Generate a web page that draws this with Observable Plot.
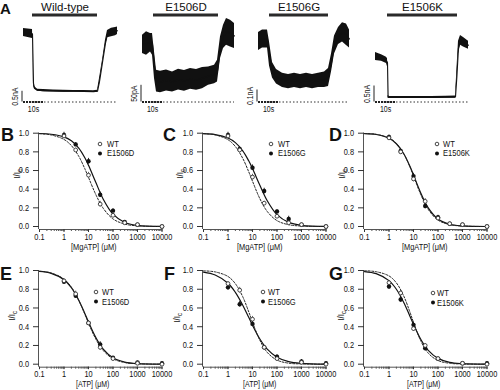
<!DOCTYPE html>
<html><head><meta charset="utf-8">
<script src="https://cdn.jsdelivr.net/npm/d3@7"></script>
<script src="https://cdn.jsdelivr.net/npm/@observablehq/plot@0.6"></script>
<style>
body{margin:0;background:#fff;}
#fig{position:relative;width:500px;height:390px;overflow:hidden;background:#fff;color:#111;
  font-family:'Liberation Sans',Arial,sans-serif;}
#fig > div{position:absolute;}
#fig svg{background:transparent;overflow:visible;}
.lt{font-weight:bold;line-height:1;}
.lg{font-size:9px;line-height:7px;height:7px;white-space:nowrap;transform-origin:left center;transform:translateY(-50%) scaleX(0.84);}
.yl{font-size:9.5px;line-height:1;white-space:nowrap;transform:translate(-50%,-50%) rotate(-90deg) scaleX(0.85);}
.yl sub{font-size:7px;vertical-align:-2px;}
</style></head>
<body><div id="fig"></div>
<script>
// ---------------- DATA ----------------
// Panel A: current traces (time in s; band low/high of the noisy trace)
const traceNames = ["Wild-type", "E1506D", "E1506G", "E1506K"];
const scaleLabels = ["0.5nA", "50pA", "0.1nA", "0.5nA"];
const scaleValues = [0.5, 50, 0.1, 0.5];
const timeBar = 10;
const timeBarLabel = "10s";
const appStart = [4.5, 5.5, 5.5, 6];
const appEnd = [37, 38, 35, 41];

const wtT  = [0, 4.5, 4.7, 5, 5.5, 7, 10, 15, 20, 25, 30, 35, 37, 38, 39.5, 41, 42, 44, 46, 47];
const wtLo = [3.06, 2.97, 1.9, 0.75, 0.6, 0.5, 0.48, 0.47, 0.46, 0.46, 0.45, 0.44, 0.45, 0.8, 1.75, 2.6, 3.0, 3.05, 3.1, 3.15];
const wtHi = [3.43, 3.39, 2.6, 1.0, 0.72, 0.6, 0.58, 0.56, 0.55, 0.54, 0.54, 0.53, 0.55, 1.1, 1.95, 2.9, 3.34, 3.45, 3.48, 3.5];

const dT  = [0, 2, 4, 5, 6, 7, 9, 12, 15, 18, 21, 24, 27, 30, 33, 36, 37.5, 39, 40.5, 42, 44, 46];
const dLo = [145, 140, 150, 140, 70, 30, 28, 33, 30, 36, 32, 38, 35, 40, 50, 55, 60, 130, 160, 170, 165, 160];
const dHi = [200, 210, 205, 205, 150, 95, 92, 96, 90, 98, 94, 100, 97, 103, 105, 110, 125, 195, 230, 250, 245, 235];

const gT  = [0, 2, 4.5, 5.5, 7, 9, 12, 15, 18, 21, 24, 27, 30, 33, 35, 36.5, 38, 40, 42, 44, 45.5];
const gLo = [0.43, 0.45, 0.45, 0.30, 0.20, 0.15, 0.12, 0.11, 0.12, 0.11, 0.12, 0.11, 0.12, 0.12, 0.13, 0.25, 0.40, 0.48, 0.50, 0.47, 0.45];
const gHi = [0.58, 0.60, 0.60, 0.50, 0.33, 0.27, 0.24, 0.23, 0.24, 0.23, 0.24, 0.23, 0.24, 0.25, 0.28, 0.40, 0.55, 0.62, 0.66, 0.65, 0.60];

const kT  = [0, 3, 5.5, 6, 6.3, 7, 12, 20, 28, 35, 40, 40.7, 41.5, 42.5, 44, 46.5];
const kLo = [1.30, 1.27, 1.20, 1.10, 0.12, 0.11, 0.11, 0.12, 0.11, 0.12, 0.12, 0.6, 1.5, 1.77, 1.72, 1.65];
const kHi = [1.55, 1.48, 1.40, 1.35, 0.20, 0.17, 0.17, 0.17, 0.17, 0.18, 0.19, 1.0, 1.9, 2.08, 2.02, 1.90];

// Panels B-G: concentration-response
const xTicks = [0.1, 1, 10, 100, 1000, 10000];
const xTickLabels = ["0.1", "1", "10", "100", "1000", "10000"];
const yTicks = [0, 0.2, 0.4, 0.6, 0.8, 1.0];
const yTickLabels = ["0.0", "0.2", "0.4", "0.6", "0.8", "1.0"];
const mgLabel = "[MgATP] (\u03bcM)";
const atpLabel = "[ATP] (\u03bcM)";
const mgConc = [1, 3, 10, 30, 100, 300, 1000, 10000];
const atpConc = [1, 3, 10, 30, 100, 1000, 10000];
const fitConc = [0.1, 0.3, 1, 2, 4, 7, 10, 20, 40, 100, 300, 1000, 10000];

const bWT = [0.97, 0.82, 0.55, 0.24, 0.12, 0.04, 0.02, 0.00];
const bMut = [0.98, 0.88, 0.70, 0.34, 0.17, 0.05, 0.02, 0.00];
const bWTErr = [0.02, 0.02, 0.03, 0.03, 0.02, 0.01, 0.01, 0.01];
const bMutErr = [0.03, 0.02, 0.03, 0.03, 0.02, 0.01, 0.01, 0.01];
const bFitWT = [0.994, 0.981, 0.933, 0.867, 0.753, 0.622, 0.526, 0.341, 0.195, 0.081, 0.026, 0.007, 0.000];
const bFitMut = [0.997, 0.989, 0.960, 0.918, 0.840, 0.739, 0.656, 0.471, 0.293, 0.132, 0.043, 0.012, 0.001];

const cWT = [0.97, 0.82, 0.53, 0.25, 0.11, 0.04, 0.02, 0.00];
const cMut = [0.98, 0.83, 0.63, 0.38, 0.16, 0.08, 0.02, 0.00];
const cWTErr = [0.02, 0.02, 0.03, 0.02, 0.02, 0.01, 0.01, 0.01];
const cMutErr = [0.03, 0.02, 0.03, 0.03, 0.02, 0.03, 0.01, 0.01];
const cFitWT = [0.995, 0.982, 0.930, 0.857, 0.730, 0.587, 0.485, 0.298, 0.161, 0.063, 0.019, 0.005, 0.000];
const cFitMut = [0.995, 0.985, 0.948, 0.899, 0.811, 0.704, 0.621, 0.442, 0.276, 0.127, 0.044, 0.013, 0.001];

const dWT = [0.95, 0.80, 0.51, 0.27, 0.09, 0.03, 0.02, 0.00];
const dMut = [0.96, 0.81, 0.54, 0.22, 0.10, 0.03, 0.02, 0.00];
const dWTErr = [0.02, 0.02, 0.03, 0.03, 0.02, 0.01, 0.01, 0.01];
const dMutErr = [0.02, 0.02, 0.03, 0.03, 0.02, 0.01, 0.01, 0.01];
const dFitWT = [0.997, 0.988, 0.949, 0.891, 0.780, 0.645, 0.542, 0.340, 0.183, 0.069, 0.020, 0.005, 0.000];
const dFitMut = [0.996, 0.986, 0.946, 0.887, 0.780, 0.650, 0.552, 0.357, 0.200, 0.080, 0.024, 0.006, 0.000];

const eWT = [0.89, 0.75, 0.44, 0.18, 0.06, 0.01, 0.00];
const eMut = [0.88, 0.73, 0.44, 0.21, 0.07, 0.02, 0.01];
const eWTErr = [0.02, 0.03, 0.02, 0.03, 0.01, 0.01, 0.01];
const eMutErr = [0.02, 0.02, 0.02, 0.03, 0.01, 0.01, 0.01];
const eFitWT = [0.992, 0.974, 0.908, 0.821, 0.682, 0.537, 0.439, 0.267, 0.146, 0.058, 0.018, 0.005, 0.000];
const eFitMut = [0.990, 0.970, 0.902, 0.817, 0.683, 0.545, 0.451, 0.284, 0.161, 0.068, 0.023, 0.006, 0.001];

const fWT = [0.86, 0.79, 0.48, 0.18, 0.06, 0.02, 0.00];
const fMut = [0.82, 0.64, 0.43, 0.18, 0.08, 0.03, 0.01];
const fWTErr = [0.02, 0.03, 0.03, 0.02, 0.01, 0.01, 0.01];
const fMutErr = [0.03, 0.03, 0.03, 0.02, 0.02, 0.02, 0.01];
const fFitWT = [0.996, 0.985, 0.936, 0.859, 0.720, 0.560, 0.449, 0.255, 0.126, 0.044, 0.011, 0.003, 0.000];
const fFitMut = [0.983, 0.952, 0.864, 0.767, 0.630, 0.500, 0.416, 0.269, 0.160, 0.074, 0.027, 0.009, 0.001];

const gWT = [0.87, 0.76, 0.38, 0.20, 0.06, 0.01, 0.00];
const gMut = [0.83, 0.69, 0.42, 0.17, 0.06, 0.01, 0.01];
const gWTErr = [0.02, 0.03, 0.03, 0.02, 0.01, 0.01, 0.01];
const gMutErr = [0.03, 0.03, 0.03, 0.02, 0.01, 0.01, 0.01];
const gFitWT = [0.997, 0.987, 0.942, 0.868, 0.727, 0.563, 0.447, 0.247, 0.118, 0.039, 0.010, 0.002, 0.000];
const gFitMut = [0.989, 0.967, 0.892, 0.800, 0.659, 0.518, 0.425, 0.263, 0.147, 0.062, 0.020, 0.006, 0.000];

const wtName = "WT";
const mutNames = ["E1506D", "E1506G", "E1506K", "E1506D", "E1506G", "E1506K"];
const yLabelMain = "I/I";
const yLabelSub = "c";

// ---------------- LAYOUT ----------------
const fig = document.getElementById("fig");
const FONT = "'Liberation Sans',Arial,sans-serif";
const NARROW = 0.82;
function put(node, left, top) {
  const d = document.createElement("div");
  d.style.left = left + "px"; d.style.top = top + "px";
  d.appendChild(node); fig.appendChild(d); return d;
}
function html(cls, inner, left, top, size) {
  const d = document.createElement("div");
  d.className = cls; d.innerHTML = inner;
  d.style.left = left + "px"; d.style.top = top + "px";
  if (size) d.style.fontSize = size + "px";
  fig.appendChild(d); return d;
}
// condense text horizontally (the figure uses a narrow face); call after the svg is in the page
function narrow(svg, skip = []) {
  svg.querySelectorAll("text").forEach(t => {
    if (skip.includes(t.textContent)) return;
    const w = t.getComputedTextLength();
    if (w > 0) {
      t.setAttribute("textLength", (w * NARROW).toFixed(2));
      t.setAttribute("lengthAdjust", "spacingAndGlyphs");
    }
  });
}

// Panel A
const traceData = [[wtT, wtLo, wtHi], [dT, dLo, dHi], [gT, gLo, gHi], [kT, kLo, kHi]];
const traceLayout = [
  {left: 1, ymax: 3.9}, {left: 120, ymax: 250}, {left: 236, ymax: 0.696}, {left: 353, ymax: 2.61}
];
traceData.forEach(([T, LO, HI], i) => {
  const rows = T.map((t, j) => ({t, lo: LO[j], hi: HI[j], mid: (LO[j] + HI[j]) / 2}));
  const tEnd = T[T.length - 1];
  const p = Plot.plot({
    width: 130, height: 118, marginLeft: 22, marginRight: 8, marginTop: 18, marginBottom: 16.5,
    x: {domain: [0, 50], axis: null},
    y: {domain: [0, traceLayout[i].ymax], axis: null},
    style: {fontFamily: FONT, fontSize: "8.5px", background: "transparent", color: "#111", overflow: "visible"},
    marks: [
      Plot.ruleY([0], {x1: 0, x2: tEnd, stroke: "#333", strokeWidth: 1, strokeDasharray: "1.5,2"}),
      Plot.ruleY([0], {x1: 0, x2: timeBar, stroke: "#222", strokeWidth: 1.8, strokeDasharray: "2,1"}),
      Plot.ruleX([0], {y1: 0, y2: scaleValues[i], stroke: "#222", strokeWidth: 1, dx: -1.5}),
      Plot.text([scaleLabels[i]], {x: 0, y: scaleValues[i] / 2, rotate: -90, dx: -8, fontSize: 8.5, fill: "#111"}),
      Plot.text([timeBarLabel], {x: timeBar / 2, y: 0, dy: 7, fontSize: 8.5, fill: "#111"}),
      Plot.barX([{a: appStart[i], b: appEnd[i]}], {x1: "a", x2: "b", insetTop: -4.5, insetBottom: 85, fill: "#2a2a2a"}),
      Plot.text([traceNames[i]], {x: (appStart[i] + appEnd[i]) / 2, frameAnchor: "top", lineAnchor: "middle", dy: -11,
        fontSize: 11.5, fill: "#111"}),
      Plot.areaY(rows, {x: "t", y1: "lo", y2: "hi", fill: "#111"}),
      Plot.line(rows, {x: "t", y: "mid", stroke: "#111", strokeWidth: 1.1})
    ]
  });
  put(p, traceLayout[i].left, 0);
  narrow(p, traceNames);
});
html("lt", "A", 0, 0.5, 15);

// Panels B-G
const panels = [
  {wt: bWT, mut: bMut, we: bWTErr, me: bMutErr, fw: bFitWT, fm: bFitMut, conc: mgConc, xl: mgLabel},
  {wt: cWT, mut: cMut, we: cWTErr, me: cMutErr, fw: cFitWT, fm: cFitMut, conc: mgConc, xl: mgLabel},
  {wt: dWT, mut: dMut, we: dWTErr, me: dMutErr, fw: dFitWT, fm: dFitMut, conc: mgConc, xl: mgLabel},
  {wt: eWT, mut: eMut, we: eWTErr, me: eMutErr, fw: eFitWT, fm: eFitMut, conc: atpConc, xl: atpLabel},
  {wt: fWT, mut: fMut, we: fWTErr, me: fMutErr, fw: fFitWT, fm: fFitMut, conc: atpConc, xl: atpLabel},
  {wt: gWT, mut: gMut, we: gWTErr, me: gMutErr, fw: gFitWT, fm: gFitMut, conc: atpConc, xl: atpLabel}
];
const panelLayout = [
  {left: 0,     top: 120, h: 133, mt: 12.7, mb: 24,   ts: 3,   tp: 1.5, lx: -7, ly: 17.7, lf: 9,   letter: "B", Lx: 1,   Ly: 125.7, yl: [17, 174],  leg: [100, 143.5, 153, 106.5]},
  {left: 163.7, top: 120, h: 133, mt: 12.7, mb: 24,   ts: 3,   tp: 1.5, lx: -5, ly: 17.7, lf: 9,   letter: "C", Lx: 163, Ly: 125.7, yl: [180, 174], leg: [271, 143.5, 153, 277.5]},
  {left: 325,   top: 120, h: 133, mt: 12.7, mb: 24,   ts: 3,   tp: 1.5, lx: -1, ly: 17.7, lf: 9,   letter: "D", Lx: 329, Ly: 125.7, yl: [342, 174], leg: [436.5, 143.5, 153, 442.5]},
  {left: 0,     top: 257, h: 134, mt: 13,   mb: 24.3, ts: 2.5, tp: 0.5, lx: -8, ly: 17,   lf: 8.5, letter: "E", Lx: 0,   Ly: 264.7, yl: [12, 316],  leg: [96, 292.3, 301.7, 101.7]},
  {left: 163.7, top: 257, h: 134, mt: 13,   mb: 24.3, ts: 2.5, tp: 0.5, lx: -5, ly: 17,   lf: 8.5, letter: "F", Lx: 164, Ly: 264.7, yl: [177, 318], leg: [263, 292.3, 301.7, 268.3]},
  {left: 325,   top: 257, h: 134, mt: 13,   mb: 24.3, ts: 2.5, tp: 0.5, lx: -2, ly: 17,   lf: 8.5, letter: "G", Lx: 329, Ly: 264.7, yl: [341, 316], leg: [432.5, 293.3, 302.7, 436.7]}
];
const xDomain = [xTicks[0], xTicks[xTicks.length - 1]];
const minorTicks = d3.scaleLog().domain(xDomain).ticks();

panels.forEach((P, i) => {
  const L = panelLayout[i];
  const wtPts = P.conc.map((c, j) => ({c, v: P.wt[j], e: P.we[j]}));
  const mutPts = P.conc.map((c, j) => ({c, v: P.mut[j], e: P.me[j]}));
  const fitW = fitConc.map((c, j) => ({c, v: P.fw[j]}));
  const fitM = fitConc.map((c, j) => ({c, v: P.fm[j]}));
  const p = Plot.plot({
    width: 174, height: L.h, marginLeft: 39, marginRight: 12.5, marginTop: L.mt, marginBottom: L.mb,
    x: {type: "log", domain: xDomain},
    y: {domain: [0, 1], insetBottom: 3},
    style: {fontFamily: FONT, fontSize: "9px", background: "transparent", color: "#111", overflow: "visible"},
    marks: [
      Plot.ruleY([0], {dy: 3, stroke: "#555", strokeWidth: 1}),
      Plot.ruleX([xDomain[0]], {dx: -1, stroke: "#555", strokeWidth: 1}),
      Plot.axisX({ticks: minorTicks, tickSize: 2, tickFormat: () => "", label: null, stroke: "#555"}),
      Plot.axisX({ticks: xTicks, tickSize: L.ts, tickPadding: L.tp, label: null, stroke: "#333", fontSize: 9,
        tickFormat: d => xTickLabels[xTicks.indexOf(d)]}),
      Plot.axisY({ticks: yTicks, tickSize: 6, tickPadding: 4.5, label: null, stroke: "#333", fontSize: 9,
        tickFormat: d => yTickLabels[yTicks.indexOf(d)]}),
      Plot.text([P.xl], {frameAnchor: "bottom", lineAnchor: "middle", dy: L.ly, dx: L.lx, fontSize: L.lf, fill: "#111"}),
      Plot.line(fitM, {x: "c", y: "v", curve: "catmull-rom", stroke: "#111", strokeWidth: 1.2}),
      Plot.line(fitW, {x: "c", y: "v", curve: "catmull-rom", stroke: "#222", strokeWidth: 1, strokeDasharray: "2,1.6"}),
      Plot.ruleX(mutPts, {x: "c", y1: d => d.v - d.e, y2: d => d.v + d.e, stroke: "#111", strokeWidth: 0.9}),
      Plot.ruleX(wtPts, {x: "c", y1: d => d.v - d.e, y2: d => d.v + d.e, stroke: "#444", strokeWidth: 0.8}),
      Plot.dot(mutPts, {x: "c", y: "v", r: 2.2, fill: "#111", stroke: "none"}),
      Plot.dot(wtPts, {x: "c", y: "v", r: 1.9, fill: "#fff", stroke: "#333", strokeWidth: 0.9})
    ]
  });
  put(p, L.left, L.top);
  narrow(p);
  html("lt", L.letter, L.Lx, L.Ly, 18);
  html("yl", yLabelMain + "<sub>" + yLabelSub + "</sub>", L.yl[0], L.yl[1]);
  const [mx, y1, y2, tx] = L.leg;
  const svgNS = "http://www.w3.org/2000/svg";
  const lg = document.createElementNS(svgNS, "svg");
  lg.setAttribute("width", 10); lg.setAttribute("height", 20);
  lg.innerHTML = `<circle cx="5" cy="5" r="1.8" fill="#fff" stroke="#333" stroke-width="0.9"/>` +
                 `<circle cx="5" cy="${5 + (y2 - y1)}" r="2" fill="#111"/>`;
  put(lg, mx - 5, y1 - 5);
  html("lg", wtName, tx, y1);
  html("lg", mutNames[i], tx, y2);
});
</script>
</body></html>
